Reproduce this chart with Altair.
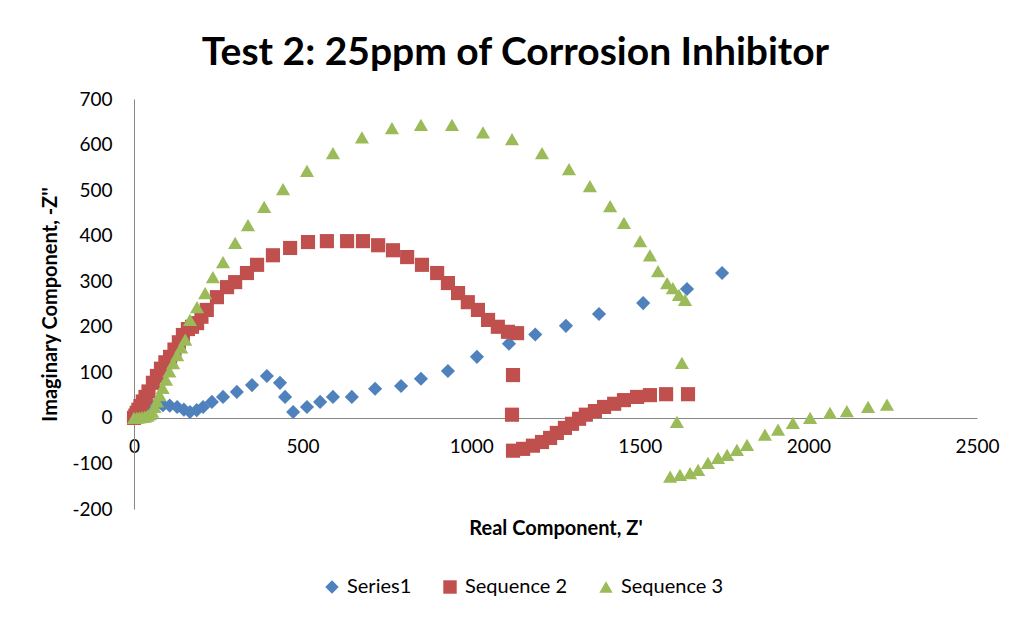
import altair as alt
import pandas as pd

# ---- data ----
names = ["Series1", "Sequence 2", "Sequence 3"]
colors = ["#4F81BD", "#C0504D", "#9BBB59"]
shapes = ["diamond", "square", "triangle-up"]

s1_x = [0, 4, 9, 15, 22, 30, 40, 52, 66, 86, 106, 128, 148, 166, 186, 205, 231, 264, 305, 350,
        394, 433, 448, 472, 513, 552, 590, 646, 715, 792, 851, 931, 1017, 1112, 1190, 1281, 1379,
        1510, 1640, 1744]
s1_y = [0, 5, 10, 16, 21, 25, 28, 29, 29, 28, 27, 24, 18, 13, 17, 24, 35, 46, 57, 72,
        92, 77, 46, 13, 24, 35, 46, 46, 64, 70, 86, 103, 134, 163, 183, 202, 228,
        252, 283, 318]

s2_x = [0, 4, 8, 13, 19, 26, 34, 43, 56, 68, 80, 93, 107, 120, 133, 145, 160, 172, 187, 200,
        216, 246, 276, 300, 335, 365, 412, 463, 516, 572, 632, 679, 724, 768, 810, 854, 899,
        931, 961, 990, 1020, 1050, 1079, 1109, 1136, 1124, 1121,
        1124, 1154, 1183, 1210, 1234, 1254, 1278, 1299, 1320, 1340, 1367, 1394, 1424, 1453,
        1492, 1530, 1578, 1643]
s2_y = [0, 5, 11, 18, 26, 36, 46, 58, 77, 92, 108, 122, 134, 150, 166, 182, 195, 200, 208, 222,
        237, 265, 287, 298, 318, 336, 357, 373, 386, 388, 388, 388, 379, 368, 353, 336, 318,
        296, 274, 254, 237, 215, 200, 189, 186, 94, 7,
        -72, -68, -61, -53, -44, -33, -22, -13, -2, 7, 15, 24, 31, 39,
        46, 50, 52, 52]

s3_x = [0, 8, 16, 24, 32, 40, 47, 54, 61, 68, 76, 85, 95, 105, 116, 128, 140, 152, 166, 187,
        211, 234, 264, 300, 338, 386, 442, 513, 590, 676, 765, 851, 943, 1035, 1121, 1210,
        1290, 1352, 1412, 1453, 1501, 1530, 1554, 1581, 1598, 1616, 1634, 1625, 1610,
        1590, 1619, 1649, 1673, 1702, 1732, 1759, 1788, 1818, 1871, 1910, 1954, 2005, 2064,
        2114, 2177, 2233]
s3_y = [0, 0, 1, 2, 3, 5, 8, 14, 24, 36, 50, 66, 84, 102, 120, 138, 155, 172, 215, 243,
        274, 309, 342, 384, 423, 463, 502, 542, 581, 616, 636, 643, 643, 627, 612, 581,
        546, 509, 465, 428, 388, 357, 322, 296, 285, 270, 259, 121, -9,
        -129, -125, -121, -114, -99, -88, -81, -70, -59, -37, -26, -11, 0, 11,
        15, 24, 29]

x_ticks = [0, 500, 1000, 1500, 2000, 2500]
y_ticks = [-200, -100, 0, 100, 200, 300, 400, 500, 600, 700]

rows = []
for name, xs, ys in [(names[0], s1_x, s1_y), (names[1], s2_x, s2_y), (names[2], s3_x, s3_y)]:
    for xv, yv in zip(xs, ys):
        rows.append({"series": name, "x": xv, "y": yv})
df = pd.DataFrame(rows)

FONT = "Lato"

legend = alt.Legend(
    title=None, orient="none", direction="horizontal",
    legendX=188, legendY=478,
    labelFont=FONT, labelFontSize=20, labelColor="#000000",
    symbolSize=180, columnPadding=28, labelOffset=5,
)

chart = alt.Chart(df).mark_point(filled=True, opacity=1, size=200, strokeWidth=0).encode(
    x=alt.X("x:Q",
            scale=alt.Scale(domain=[0, 2500], nice=False, zero=False),
            axis=alt.Axis(values=x_ticks, title="Real Component, Z'", offset=-91,
                          labelExpr="'' + datum.value", labelFlush=False,
                          grid=False, ticks=False, labelPadding=19, titleY=100)),
    y=alt.Y("y:Q",
            scale=alt.Scale(domain=[-200, 700], nice=False, zero=False),
            axis=alt.Axis(values=y_ticks, title="Imaginary Component, -Z''",
                          labelExpr="'' + datum.value", labelFlush=False,
                          grid=False, ticks=False, labelPadding=22, titlePadding=11)),
    color=alt.Color("series:N", scale=alt.Scale(domain=names, range=colors), legend=legend),
    shape=alt.Shape("series:N", scale=alt.Scale(domain=names, range=shapes), legend=legend),
).properties(
    width=843,
    height=410,
    title=alt.TitleParams("Test 2: 25ppm of Corrosion Inhibitor", font=FONT, fontSize=39,
                          fontWeight="bold", color="#000000", anchor="middle", offset=17,
                          dx=-40),
    autosize=alt.AutoSizeParams(type="none"),
    padding={"left": 126, "top": 91, "right": 38, "bottom": 101},
).configure_view(
    stroke=None
).configure_axis(
    labelFont=FONT, labelFontSize=19, labelColor="#000000",
    titleFont=FONT, titleFontSize=20, titleFontWeight="bold", titleColor="#000000",
    domainColor="#868686", domainWidth=1,
)

chart.save("out.html", embed_options={"renderer": "svg", "actions": False})
